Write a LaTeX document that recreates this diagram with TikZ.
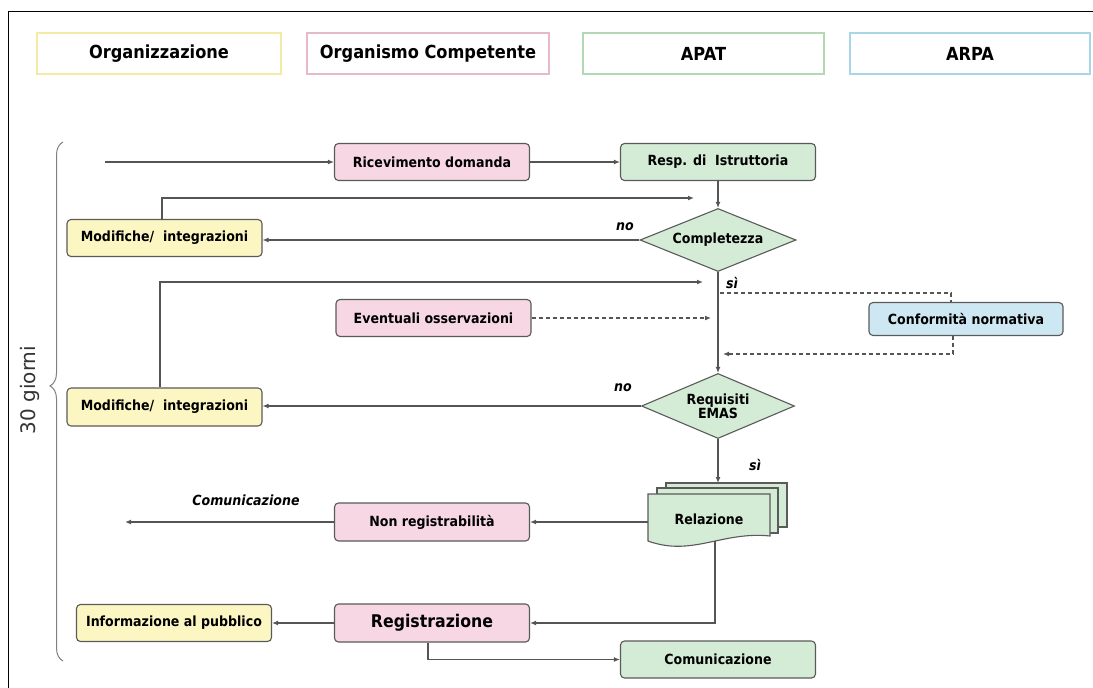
\documentclass[tikz,border=0pt]{standalone}
\usepackage{fontspec}
\setmainfont{DejaVu Sans}[FakeStretch=0.9]
\newfontfamily\plainsans{DejaVu Sans}
\usetikzlibrary{shapes.geometric,arrows.meta,decorations.pathreplacing,calc}
\definecolor{yfill}{HTML}{FCF7C2}
\definecolor{pfill}{HTML}{F6D7E3}
\definecolor{gfill}{HTML}{D4ECD5}
\definecolor{bfill}{HTML}{CDE8F2}
\definecolor{yline}{HTML}{F3EBA4}
\definecolor{pline}{HTML}{E8B9CB}
\definecolor{gline}{HTML}{B3D8B4}
\definecolor{bline}{HTML}{A8D6E6}
\definecolor{edge}{HTML}{5A5A5A}
\definecolor{conn}{HTML}{555555}
\tikzset{
  legend/.style={draw, line width=2pt, minimum height=41pt, inner sep=0pt, font=\fontsize{18}{20}\selectfont\bfseries},
  flowbox/.style={draw=edge, line width=1.1pt, rounded corners=4pt, minimum height=37pt, minimum width=195pt, inner sep=0pt, font=\fontsize{14}{16}\selectfont\bfseries},
  orgbox/.style={flowbox, fill=yfill},
  ocbox/.style={flowbox, fill=pfill},
  apatbox/.style={flowbox, fill=gfill},
  arpabox/.style={flowbox, fill=bfill},
  decision/.style={diamond, draw=edge, line width=1.1pt, fill=gfill, inner sep=0pt, font=\fontsize{14}{15}\selectfont\bfseries, align=center},
  arr/.style={draw=conn, line width=1.3pt, -{Latex[length=6pt,width=5pt]}},
  plainline/.style={draw=conn, line width=1.3pt},
  darr/.style={arr, dash pattern=on 4pt off 3pt},
  dline/.style={plainline, dash pattern=on 4pt off 3pt},
  tag/.style={font=\fontsize{14}{16}\selectfont\bfseries\itshape},
}
\begin{document}
\begin{tikzpicture}[x=1pt,y=-1pt]
\useasboundingbox (0,0) rectangle (1093,688);
\fill[white] (0,0) rectangle (1093,688);
\draw[line width=1pt] (8,688) -- (8,11) -- (1093,11);

% legend
\node[legend, draw=yline, minimum width=244pt] (lg1) at (159,53.5) {Organizzazione};
\node[legend, draw=pline, minimum width=242pt] (lg2) at (428,53.5) {Organismo Competente};
\node[legend, draw=gline, minimum width=241pt] (lg3) at (703.5,53.5) {APAT};
\node[legend, draw=bline, minimum width=240pt] (lg4) at (970,53.5) {ARPA};

% nodes
\node[ocbox] (ric) at (432,162) {Ricevimento domanda};
\node[apatbox] (resp) at (718,162) {Resp. di\ \ Istruttoria};
\node[decision, aspect=2.45, minimum width=156pt, minimum height=63pt] (comp) at (718,240) {Completezza};
\node[orgbox] (mod1) at (164.5,238) {Modifiche/\ \ integrazioni};
\node[ocbox] (ev) at (433.5,318) {Eventuali osservazioni};
\node[arpabox, minimum height=33pt, minimum width=194pt] (conf) at (966,319) {Conformità normativa};
\node[decision, aspect=2.35, minimum width=153pt, minimum height=65pt] (req) at (718,406) {Requisiti\\[-1pt]EMAS};
\node[orgbox, minimum height=38pt] (mod2) at (164.5,407) {Modifiche/\ \ integrazioni};
\node[ocbox, minimum height=38pt] (nr) at (432,522) {Non registrabilità};
\node[ocbox, minimum height=38pt, font=\fontsize{17.5}{19}\selectfont\bfseries] (reg) at (432,623) {Registrazione};
\node[orgbox] (info) at (174,623) {Informazione al pubblico};
\node[apatbox] (com) at (718,659.5) {Comunicazione};

% Relazione stacked documents
\filldraw[fill=gfill, draw=edge, line width=1.1pt] (666,483) -- (787,483) -- (787,527) -- (666,527) -- cycle;
\filldraw[fill=gfill, draw=edge, line width=1.1pt] (657,488) -- (778,488) -- (778,533) -- (657,533) -- cycle;
\filldraw[fill=gfill, draw=edge, line width=1.1pt] (648,494) -- (770,494) -- (770,536) .. controls (722,531) and (692,557) .. (648,541) -- cycle;
\node[minimum width=122pt, minimum height=46pt, inner sep=0pt, font=\fontsize{14}{16}\selectfont\bfseries] (rel) at (709,519) {Relazione};

% coordinates
\coordinate (in0) at (105,162);
\coordinate (l1a) at (162,198);
\coordinate (l1b) at (694,198);
\coordinate (l2a) at (160,282);
\coordinate (l2b) at (703,282);
\coordinate (evend) at (711,318);
\coordinate (c1) at (720,293);
\coordinate (c2) at (951,293);
\coordinate (c3) at (953,354);
\coordinate (c4) at (723,354);
\coordinate (reltop) at (718,483);
\coordinate (relb) at (715,541);
\coordinate (cend) at (125,522);
\coordinate (rb) at (428,659.5);

% connectors
\draw[arr] (in0) -- (ric.west);
\draw[arr] (ric.east) -- (resp.west);
\draw[arr] (resp.south) -- (comp.north);
\draw[arr] (comp.west) -- (comp.west -| mod1.east);
\draw[arr] (mod1.north -| l1a) -- (l1a) -- (l1b);
\draw[arr] (comp.south) -- (req.north);
\draw[arr] (mod2.north -| l2a) -- (l2a) -- (l2b);
\draw[darr] (ev.east) -- (evend);
\draw[dline] (c1) -- (c2) -- (c2 |- conf.north);
\draw[darr] (conf.south -| c3) -- (c3) -- (c4);
\draw[arr] (req.west) -- (req.west -| mod2.east);
\draw[arr] (req.south) -- (reltop);
\draw[arr] (nr.east -| rel.west) -- (nr.east);
\draw[arr] (nr.west) -- (cend);
\draw[arr] (relb) -- (relb |- reg.east) -- (reg.east);
\draw[arr] (reg.west) -- (info.east);
\draw[arr] (reg.south -| rb) -- (rb) -- (com.west);

% labels
\node[tag] (no1) at (625,227) {no};
\node[tag] (si1) at (732,283) {sì};
\node[tag] (no2) at (623,388) {no};
\node[tag] (si2) at (755,465) {sì};
\node[tag] (comlab) at (246,500) {Comunicazione};

% brace and duration
\draw[draw=gray, line width=1pt, decorate, decoration={brace, mirror, amplitude=13pt, aspect=0.47}] (63,142) -- (63,661);
\node[rotate=90, font=\plainsans\fontsize{20}{22}\selectfont, text=black!80] (days) at (30,390) {30 giorni};
\end{tikzpicture}
\end{document}
